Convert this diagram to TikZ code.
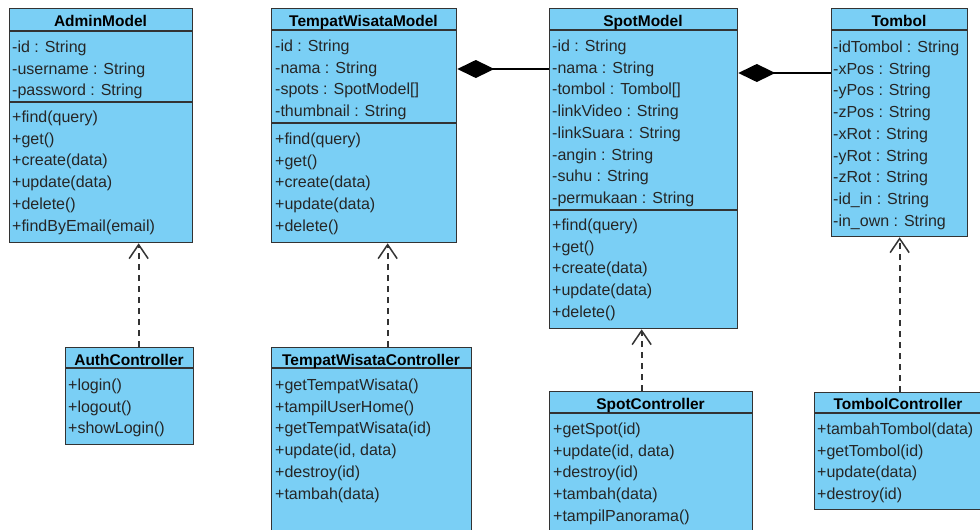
\documentclass[tikz,border=0pt]{standalone}
\usepackage{fontspec}
\setmainfont{Liberation Sans}
\usepackage{xcolor}
\usetikzlibrary{arrows.meta,positioning,calc}
\definecolor{classblue}{RGB}{122,207,245}
\definecolor{edgegrey}{RGB}{51,51,51}
\definecolor{textgrey}{RGB}{38,38,38}

\begin{document}
\begin{tikzpicture}[x=1pt, y=-1pt,
    classbox/.style={draw=edgegrey, line width=1.3pt, fill=classblue, anchor=north west, inner sep=0pt},
    classname/.style={font=\fontsize{15.5}{18}\selectfont\bfseries, text=black, anchor=base, inner sep=0pt},
    member/.style={font=\fontsize{16}{19}\selectfont, text=textgrey, anchor=base west, inner sep=0pt},
    divider/.style={draw=edgegrey, line width=1.3pt},
    composition/.style={draw=black, line width=1.5pt, {Diamond[length=37pt,width=18pt,fill=black]}-},
    realization/.style={draw=edgegrey, line width=1.8pt, dash pattern=on 6pt off 5pt,
        -{Straight Barb[length=14pt,width=19pt,line width=1.5pt]}}]

    % Page frame
    \useasboundingbox (0,0) rectangle (980,530);
    \clip (0,0) rectangle (980,530);

    % AdminModel
    \node[classbox, minimum width=183pt, minimum height=234pt] (adminmodel) at (9,8) {};
    \draw[divider] (9,31) -- (192,31);
    \draw[divider] (9,102) -- (192,102);
    \node[classname] (adminmodel-name) at (100.5,26) {AdminModel};
    \foreach \m [count=\i from 0] in {-id : String, -username : String, -password : String}
        \node[member] (adminmodel-a\i) at (12,{52.3+21.7*\i}) {\m};
    \foreach \m [count=\i from 0] in {+find(query), +get(), +create(data), +update(data), +delete(), +findByEmail(email)}
        \node[member] (adminmodel-o\i) at (12,{122.5+21.7*\i}) {\m};

    % TempatWisataModel
    \node[classbox, minimum width=185pt, minimum height=234pt] (twmodel) at (271,8) {};
    \draw[divider] (271,30) -- (456,30);
    \draw[divider] (271,123) -- (456,123);
    \node[classname] (twmodel-name) at (363.5,26) {TempatWisataModel};
    \foreach \m [count=\i from 0] in {-id : String, -nama : String, -spots : SpotModel[], -thumbnail : String}
        \node[member] (twmodel-a\i) at (275,{51.5+21.7*\i}) {\m};
    \foreach \m [count=\i from 0] in {+find(query), +get(), +create(data), +update(data), +delete()}
        \node[member] (twmodel-o\i) at (275,{144.5+21.7*\i}) {\m};

    % SpotModel
    \node[classbox, minimum width=188pt, minimum height=320pt] (spotmodel) at (549,8) {};
    \draw[divider] (549,30) -- (737,30);
    \draw[divider] (549,210) -- (737,210);
    \node[classname] (spotmodel-name) at (643,26) {SpotModel};
    \foreach \m [count=\i from 0] in {-id : String, -nama : String, -tombol : Tombol[], -linkVideo : String,
            -linkSuara : String, -angin : String, -suhu : String, -permukaan : String}
        \node[member] (spotmodel-a\i) at (552,{51.5+21.7*\i}) {\m};
    \foreach \m [count=\i from 0] in {+find(query), +get(), +create(data), +update(data), +delete()}
        \node[member] (spotmodel-o\i) at (552,{230.5+21.7*\i}) {\m};

    % Tombol
    \node[classbox, minimum width=136pt, minimum height=228pt] (tombol) at (831,8) {};
    \draw[divider] (831,30) -- (967,30);
    \node[classname] (tombol-name) at (899,26.5) {Tombol};
    \foreach \m [count=\i from 0] in {-idTombol : String, -xPos : String, -yPos : String, -zPos : String,
            -xRot : String, -yRot : String, -zRot : String, -id\_in : String, -in\_own : String}
        \node[member] (tombol-a\i) at (833,{52.5+21.7*\i}) {\m};

    % AuthController
    \node[classbox, minimum width=128pt, minimum height=97pt] (authctl) at (65,347) {};
    \draw[divider] (65,368) -- (193,368);
    \node[classname] (authctl-name) at (129,365) {AuthController};
    \foreach \m [count=\i from 0] in {+login(), +logout(), +showLogin()}
        \node[member] (authctl-o\i) at (68,{390.5+21.7*\i}) {\m};

    % TempatWisataController
    \node[classbox, minimum width=200pt, minimum height=200pt] (twctl) at (271,347) {};
    \draw[divider] (271,368) -- (471,368);
    \node[classname] (twctl-name) at (371,365) {TempatWisataController};
    \foreach \m [count=\i from 0] in {+getTempatWisata(), +tampilUserHome(), +getTempatWisata(id),
            {+update(id, data)}, +destroy(id), +tambah(data)}
        \node[member] (twctl-o\i) at (275,{390.5+21.7*\i}) {\m};

    % SpotController
    \node[classbox, minimum width=203pt, minimum height=160pt] (spotctl) at (549,391) {};
    \draw[divider] (549,413) -- (752,413);
    \node[classname] (spotctl-name) at (650.5,409.3) {SpotController};
    \foreach \m [count=\i from 0] in {+getSpot(id), {+update(id, data)}, +destroy(id), +tambah(data), +tampilPanorama()}
        \node[member] (spotctl-o\i) at (553,{434.5+21.7*\i}) {\m};

    % TombolController
    \node[classbox, minimum width=168pt, minimum height=117pt] (tombolctl) at (814,392) {};
    \draw[divider] (814,413) -- (982,413);
    \node[classname] (tombolctl-name) at (898,409.3) {TombolController};
    \foreach \m [count=\i from 0] in {+tambahTombol(data), +getTombol(id), +update(data), +destroy(id)}
        \node[member] (tombolctl-o\i) at (817,{434.5+21.7*\i}) {\m};

    % Compositions
    \coordinate (twmodel-link) at ([yshift=-61pt]twmodel.north east);
    \draw[composition] (twmodel-link) -- (twmodel-link -| spotmodel.west);
    \coordinate (spotmodel-link) at ([yshift=-65pt]spotmodel.north east);
    \draw[composition] (spotmodel-link) -- (spotmodel-link -| tombol.west);

    % Realizations
    \coordinate (authctl-link) at ([xshift=9pt]authctl.north);
    \draw[realization] (authctl-link) -- (authctl-link |- adminmodel.south);
    \coordinate (twctl-link) at ([xshift=16pt]twctl.north);
    \draw[realization] (twctl-link) -- (twctl-link |- twmodel.south);
    \coordinate (spotctl-link) at ([xshift=-9.5pt]spotctl.north);
    \draw[realization] (spotctl-link) -- (spotctl-link |- spotmodel.south);
    \coordinate (tombolctl-link) at ([xshift=1pt]tombolctl.north);
    \draw[realization] (tombolctl-link) -- (tombolctl-link |- tombol.south);
\end{tikzpicture}
\end{document}
